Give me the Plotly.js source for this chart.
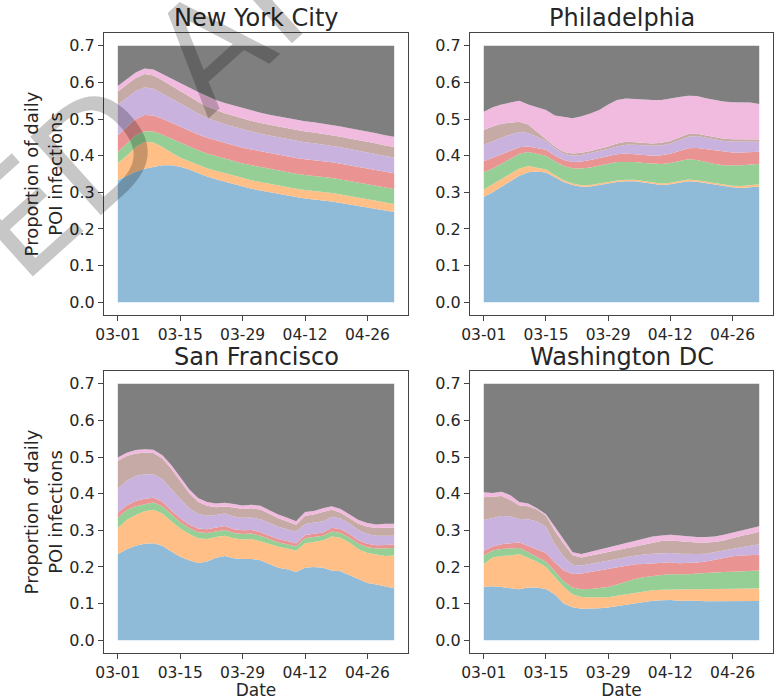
<!DOCTYPE html>
<html>
<head>
<meta charset="utf-8">
<script src="https://cdn.plot.ly/plotly-3.0.1.min.js"></script>
<style>html,body{margin:0;padding:0;background:#fff;}</style>
</head>
<body>
<div id="chart" style="width:780px;height:700px;"></div>
<script>
// ---- data ----
const CITIES = ['New York City', 'Philadelphia', 'San Francisco', 'Washington DC'];
const DATES = ['2020-03-01','2020-03-03','2020-03-05','2020-03-07','2020-03-09','2020-03-11','2020-03-13','2020-03-15',
  '2020-03-17','2020-03-19','2020-03-21','2020-03-23','2020-03-25','2020-03-27','2020-03-29','2020-03-31',
  '2020-04-02','2020-04-04','2020-04-06','2020-04-08','2020-04-10','2020-04-12','2020-04-14','2020-04-16',
  '2020-04-18','2020-04-20','2020-04-22','2020-04-24','2020-04-26','2020-04-28','2020-04-30','2020-05-02'];
const TICK_DATES = ['2020-03-01','2020-03-15','2020-03-29','2020-04-12','2020-04-26'];
const TICK_LABELS = ['03-01','03-15','03-29','04-12','04-26'];
const Y_TICKS = [0, 0.1, 0.2, 0.3, 0.4, 0.5, 0.6, 0.7];
const Y_TICK_LABELS = ['0.0','0.1','0.2','0.3','0.4','0.5','0.6','0.7'];
const Y_TITLE = 'Proportion of daily<br>POI infections';
const X_TITLE = 'Date';
const WATERMARK = 'ACCELERATED ARTICLE PREVIEW';

// upper edge of each stacked band (cumulative), bottom band first
const TOTAL = [0.7,0.7,0.7,0.7,0.7,0.7,0.7,0.7,0.7,0.7,0.7,0.7,0.7,0.7,0.7,0.7,
  0.7,0.7,0.7,0.7,0.7,0.7,0.7,0.7,0.7,0.7,0.7,0.7,0.7,0.7,0.7,0.7];

const nyc_blue   = [0.333,0.345,0.356,0.364,0.370,0.374,0.374,0.370,0.362,0.352,0.343,0.336,0.329,0.322,0.315,0.310,0.305,0.300,0.296,0.292,0.287,0.283,0.281,0.279,0.275,0.271,0.267,0.263,0.259,0.255,0.250,0.246];
const nyc_orange = [0.380,0.400,0.424,0.438,0.436,0.424,0.409,0.395,0.385,0.375,0.366,0.359,0.352,0.345,0.338,0.333,0.328,0.323,0.319,0.315,0.310,0.306,0.304,0.302,0.298,0.294,0.290,0.286,0.282,0.277,0.272,0.268];
const nyc_green  = [0.410,0.432,0.455,0.467,0.466,0.457,0.446,0.435,0.425,0.415,0.406,0.399,0.392,0.386,0.379,0.374,0.369,0.364,0.360,0.356,0.351,0.347,0.345,0.343,0.339,0.335,0.331,0.327,0.323,0.318,0.313,0.309];
const nyc_red    = [0.456,0.478,0.500,0.511,0.510,0.501,0.490,0.479,0.468,0.458,0.449,0.442,0.435,0.429,0.422,0.417,0.412,0.407,0.403,0.399,0.394,0.390,0.388,0.386,0.382,0.378,0.374,0.370,0.366,0.361,0.356,0.352];
const nyc_purple = [0.540,0.558,0.576,0.587,0.583,0.570,0.556,0.542,0.528,0.515,0.503,0.494,0.486,0.479,0.472,0.466,0.460,0.455,0.450,0.446,0.441,0.437,0.434,0.431,0.427,0.423,0.418,0.414,0.409,0.404,0.399,0.395];
const nyc_brown  = [0.575,0.593,0.612,0.623,0.619,0.606,0.591,0.577,0.562,0.547,0.534,0.524,0.516,0.509,0.501,0.495,0.489,0.484,0.479,0.475,0.470,0.466,0.463,0.460,0.456,0.452,0.447,0.443,0.438,0.433,0.428,0.424];
const nyc_pink   = [0.590,0.608,0.627,0.638,0.635,0.623,0.610,0.598,0.586,0.574,0.562,0.552,0.544,0.537,0.529,0.523,0.517,0.512,0.507,0.503,0.498,0.494,0.491,0.488,0.484,0.480,0.475,0.471,0.466,0.461,0.456,0.452];

const phl_blue   = [0.288,0.300,0.315,0.330,0.345,0.355,0.357,0.354,0.342,0.328,0.320,0.315,0.316,0.320,0.325,0.328,0.330,0.330,0.327,0.323,0.320,0.322,0.326,0.330,0.329,0.325,0.320,0.316,0.314,0.312,0.314,0.316];
const phl_orange = [0.308,0.322,0.335,0.350,0.365,0.372,0.366,0.362,0.347,0.333,0.324,0.319,0.320,0.324,0.329,0.332,0.334,0.334,0.331,0.327,0.324,0.326,0.330,0.335,0.333,0.329,0.324,0.320,0.318,0.317,0.319,0.322];
const phl_green  = [0.355,0.365,0.378,0.392,0.405,0.410,0.405,0.400,0.385,0.372,0.366,0.365,0.368,0.372,0.378,0.383,0.384,0.383,0.380,0.378,0.377,0.380,0.386,0.390,0.388,0.382,0.377,0.374,0.373,0.374,0.376,0.377];
const phl_red    = [0.385,0.395,0.405,0.415,0.423,0.425,0.421,0.416,0.400,0.388,0.383,0.384,0.388,0.393,0.398,0.404,0.406,0.404,0.401,0.400,0.401,0.405,0.413,0.420,0.421,0.418,0.413,0.410,0.409,0.409,0.410,0.411];
const phl_purple = [0.430,0.440,0.450,0.458,0.465,0.462,0.452,0.440,0.420,0.405,0.400,0.402,0.407,0.412,0.418,0.425,0.430,0.430,0.428,0.427,0.428,0.433,0.442,0.452,0.454,0.450,0.444,0.440,0.439,0.439,0.439,0.438];
const phl_brown  = [0.470,0.480,0.487,0.490,0.493,0.485,0.466,0.445,0.425,0.410,0.406,0.408,0.413,0.418,0.425,0.433,0.438,0.437,0.434,0.433,0.435,0.440,0.450,0.459,0.460,0.455,0.449,0.446,0.445,0.445,0.445,0.444];
const phl_pink   = [0.520,0.532,0.540,0.545,0.550,0.540,0.532,0.525,0.510,0.505,0.502,0.508,0.515,0.525,0.540,0.552,0.556,0.555,0.553,0.552,0.552,0.555,0.560,0.564,0.563,0.557,0.552,0.548,0.546,0.545,0.545,0.541];

const sf_blue   = [0.235,0.248,0.258,0.263,0.265,0.258,0.242,0.228,0.218,0.211,0.215,0.225,0.230,0.224,0.222,0.222,0.218,0.208,0.198,0.194,0.186,0.198,0.200,0.198,0.190,0.188,0.177,0.165,0.156,0.152,0.148,0.142];
const sf_orange = [0.306,0.328,0.342,0.352,0.356,0.346,0.325,0.305,0.290,0.278,0.276,0.282,0.285,0.278,0.275,0.276,0.270,0.262,0.255,0.250,0.244,0.265,0.268,0.272,0.283,0.280,0.266,0.248,0.238,0.233,0.230,0.231];
const sf_green  = [0.335,0.355,0.366,0.372,0.376,0.366,0.343,0.322,0.306,0.295,0.293,0.298,0.301,0.293,0.290,0.291,0.285,0.276,0.267,0.262,0.256,0.278,0.281,0.285,0.297,0.293,0.280,0.263,0.254,0.250,0.251,0.252];
const sf_red    = [0.348,0.368,0.380,0.386,0.389,0.378,0.354,0.333,0.316,0.305,0.303,0.308,0.312,0.303,0.300,0.301,0.295,0.285,0.276,0.271,0.264,0.287,0.290,0.294,0.307,0.303,0.290,0.272,0.263,0.259,0.260,0.261];
const sf_purple = [0.413,0.435,0.448,0.453,0.453,0.440,0.412,0.385,0.360,0.345,0.340,0.342,0.346,0.338,0.334,0.335,0.330,0.320,0.310,0.303,0.296,0.317,0.320,0.325,0.337,0.332,0.318,0.300,0.290,0.285,0.285,0.285];
const sf_brown  = [0.490,0.503,0.510,0.512,0.511,0.496,0.468,0.435,0.402,0.378,0.367,0.363,0.365,0.362,0.358,0.360,0.357,0.345,0.333,0.324,0.315,0.340,0.343,0.350,0.356,0.348,0.333,0.318,0.310,0.306,0.307,0.308];
const sf_pink   = [0.499,0.512,0.519,0.521,0.520,0.505,0.478,0.445,0.412,0.388,0.377,0.373,0.375,0.372,0.368,0.370,0.367,0.355,0.343,0.334,0.325,0.350,0.353,0.360,0.366,0.358,0.343,0.328,0.320,0.316,0.318,0.318];

const dc_blue   = [0.146,0.147,0.145,0.141,0.139,0.144,0.144,0.140,0.125,0.100,0.090,0.086,0.086,0.087,0.089,0.093,0.097,0.101,0.105,0.108,0.109,0.110,0.108,0.109,0.108,0.106,0.106,0.107,0.107,0.107,0.107,0.107];
const dc_orange = [0.208,0.226,0.230,0.231,0.235,0.225,0.214,0.200,0.172,0.145,0.125,0.118,0.117,0.117,0.117,0.121,0.125,0.129,0.133,0.136,0.138,0.139,0.138,0.139,0.139,0.139,0.140,0.140,0.141,0.141,0.141,0.142];
const dc_green  = [0.231,0.245,0.249,0.250,0.252,0.240,0.228,0.214,0.188,0.160,0.144,0.139,0.140,0.142,0.145,0.152,0.160,0.167,0.172,0.176,0.178,0.180,0.179,0.180,0.182,0.184,0.185,0.186,0.187,0.188,0.189,0.190];
const dc_red    = [0.244,0.256,0.262,0.265,0.267,0.257,0.248,0.238,0.212,0.190,0.181,0.182,0.186,0.190,0.194,0.198,0.203,0.207,0.208,0.210,0.211,0.213,0.210,0.210,0.212,0.215,0.220,0.226,0.229,0.231,0.232,0.233];
const dc_purple = [0.328,0.334,0.339,0.338,0.331,0.330,0.324,0.310,0.262,0.228,0.206,0.204,0.208,0.212,0.217,0.222,0.227,0.231,0.234,0.236,0.237,0.238,0.236,0.235,0.235,0.236,0.240,0.246,0.250,0.254,0.258,0.262];
const dc_brown  = [0.390,0.391,0.394,0.383,0.368,0.366,0.357,0.340,0.298,0.263,0.232,0.226,0.231,0.236,0.241,0.246,0.252,0.257,0.263,0.268,0.271,0.272,0.270,0.268,0.267,0.267,0.268,0.272,0.279,0.285,0.290,0.296];
const dc_pink   = [0.404,0.402,0.405,0.396,0.377,0.373,0.360,0.344,0.310,0.275,0.240,0.235,0.241,0.246,0.252,0.258,0.264,0.270,0.276,0.283,0.286,0.288,0.286,0.283,0.282,0.282,0.283,0.288,0.294,0.300,0.305,0.311];

const CITY_BANDS = [
  [nyc_blue, nyc_orange, nyc_green, nyc_red, nyc_purple, nyc_brown, nyc_pink, TOTAL],
  [phl_blue, phl_orange, phl_green, phl_red, phl_purple, phl_brown, phl_pink, TOTAL],
  [sf_blue, sf_orange, sf_green, sf_red, sf_purple, sf_brown, sf_pink, TOTAL],
  [dc_blue, dc_orange, dc_green, dc_red, dc_purple, dc_brown, dc_pink, TOTAL]
];

// ---- style ----
const COLORS = ['#8fbbd9', '#ffbf86', '#95cf95', '#ea9393', '#c9b3de', '#c5aaa5', '#f1bbe0', '#7f7f7f'];
const FONT = 'DejaVu Sans';
const TEXT = '#262626';
const W = 780, H = 700;
const XDOM = [[104 / W, 408 / W], [470 / W, 773 / W]];
const YDOM = [[1 - 315 / H, 1 - 33 / H], [1 - 653 / H, 1 - 371 / H]];

const traces = [];
CITY_BANDS.forEach((bands, ci) => {
  const suf = ci === 0 ? '' : String(ci + 1);
  bands.forEach((arr, li) => {
    traces.push({
      type: 'scatter', mode: 'lines', x: DATES, y: arr,
      xaxis: 'x' + suf, yaxis: 'y' + suf,
      line: { width: 0, color: COLORS[li] },
      fill: li === 0 ? 'tozeroy' : 'tonexty',
      fillcolor: COLORS[li], hoverinfo: 'skip'
    });
  });
});

function xAxis(ci) {
  const row = Math.floor(ci / 2), col = ci % 2;
  return {
    domain: XDOM[col], anchor: 'y' + (ci === 0 ? '' : ci + 1), type: 'date',
    range: ['2020-02-26 21:36', '2020-05-05 02:24'],
    tickvals: TICK_DATES, ticktext: TICK_LABELS,
    showline: true, mirror: true, linecolor: '#444', linewidth: 1,
    ticks: 'outside', ticklen: 5, tickcolor: '#444', tickwidth: 1,
    showgrid: false, zeroline: false,
    tickfont: { family: FONT, size: 15.5, color: TEXT },
    title: row === 1 ? { text: X_TITLE, font: { family: FONT, size: 17, color: TEXT }, standoff: 4 } : { text: '' }
  };
}
function yAxis(ci) {
  const row = Math.floor(ci / 2), col = ci % 2;
  return {
    domain: YDOM[row], anchor: 'x' + (ci === 0 ? '' : ci + 1),
    range: [-0.035, 0.735],
    tickvals: Y_TICKS, ticktext: Y_TICK_LABELS,
    showline: true, mirror: true, linecolor: '#444', linewidth: 1,
    ticks: 'outside', ticklen: 5, tickcolor: '#444', tickwidth: 1,
    showgrid: false, zeroline: false,
    tickfont: { family: FONT, size: 16, color: TEXT },
    title: col === 0 ? { text: Y_TITLE, font: { family: FONT, size: 18, color: TEXT }, standoff: 2 } : { text: '' }
  };
}

const layout = {
  width: W, height: H,
  margin: { l: 0, r: 0, t: 0, b: 0 },
  paper_bgcolor: '#ffffff', plot_bgcolor: '#ffffff',
  showlegend: false,
  font: { family: FONT, color: TEXT },
  annotations: []
};
for (let ci = 0; ci < 4; ci++) {
  const suf = ci === 0 ? '' : String(ci + 1);
  layout['xaxis' + suf] = xAxis(ci);
  layout['yaxis' + suf] = yAxis(ci);
  const row = Math.floor(ci / 2), col = ci % 2;
  layout.annotations.push({
    text: CITIES[ci], xref: 'paper', yref: 'paper',
    x: (XDOM[col][0] + XDOM[col][1]) / 2, y: YDOM[row][1] - (row === 1 ? 1 : 0) / H,
    xanchor: 'center', yanchor: 'bottom', showarrow: false, borderpad: 0,
    font: { family: FONT, size: 24, color: TEXT }
  });
}
// diagonal watermark, mostly outside the page as in the reference
layout.annotations.push({
  text: WATERMARK, xref: 'paper', yref: 'paper',
  x: 253 / W, y: 1 - 11 / H, xanchor: 'center', yanchor: 'middle',
  showarrow: false, textangle: -42,
  font: { family: FONT, size: 145, color: 'rgba(0,0,0,0.22)' }
});

Plotly.newPlot('chart', traces, layout, { staticPlot: true, displayModeBar: false });
</script>
</body>
</html>
